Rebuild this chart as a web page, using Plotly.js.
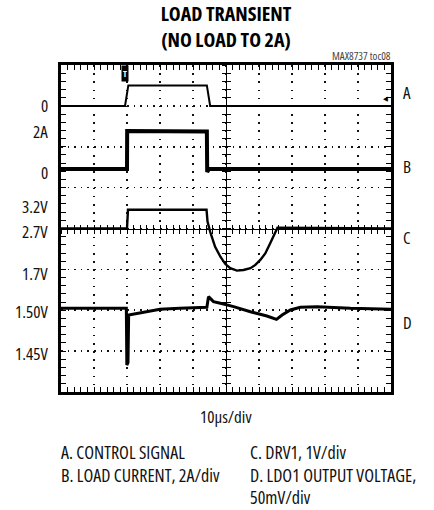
<!DOCTYPE html>
<html><head><meta charset="utf-8">
<script src="https://cdn.plot.ly/plotly-3.0.1.min.js"></script>
<style>
html,body{margin:0;padding:0;background:#fff}
#chart{width:434px;height:510px}
svg text, svg tspan, .probe{font-stretch:condensed}
</style>
</head><body><div id="chart"></div>
<script>
// ---- data (time in µs, 10 µs/div) ----
// A. control signal (logic level)
const timeA = [0, 19.4, 20.4, 44.2, 45.2, 100];
const ctrlA = [0, 0, 1, 1, 0, 0];
// B. load current (A), 2A/div
const timeB = [0, 20.0, 20.05, 32, 44.2, 44.3, 44.8, 100];
const loadB = [0, 0, 1.86, 1.85, 1.84, -0.15, 0, 0];
// C. DRV1 (V), 1V/div
const timeC = [0, 20.0, 20.3, 44.1, 44.4, 45.2, 46.7, 48.3, 49.8, 51.3, 53.3, 55.3, 57.4, 58.9, 60.4, 61.9, 63.4, 64.6, 65.6, 100];
const drvC  = [2.70, 2.70, 3.16, 3.16, 2.87, 2.62, 2.25, 2.01, 1.83, 1.73, 1.67, 1.685, 1.73, 1.81, 1.93, 2.09, 2.34, 2.54, 2.72, 2.70];
// D. LDO1 output voltage (V), 50mV/div
const timeD = [0, 19.8, 19.95, 20.3, 20.5, 24, 30, 36, 42.2, 44.2, 44.7, 46.2, 48.3, 52.3, 57.4, 62.4, 65.3, 67.0, 69.5, 72.5, 77.6, 87.7, 100];
const ldoD  = [1.5024, 1.5024, 1.433, 1.436, 1.4942, 1.497, 1.5011, 1.5024, 1.5036, 1.5036, 1.5166, 1.5105, 1.5085, 1.5044, 1.4982, 1.493, 1.4889, 1.4942, 1.5003, 1.5036, 1.5043, 1.5024, 1.5012];

// level labels on the left
const labelsA = ['0'];            const levelsA = [0];
const labelsB = ['2A', '0'];      const levelsB = [2, 0];
const labelsC = ['3.2V', '2.7V', '1.7V']; const levelsC = [3.2, 2.7, 1.7];
const labelsD = ['1.50V', '1.45V'];       const levelsD = [1.50, 1.45];
const channelNames = ['A', 'B', 'C', 'D'];
const legendLeft  = ['A. CONTROL SIGNAL', 'B. LOAD CURRENT, 2A/div'];
const legendRight = ['C. DRV1, 1V/div', 'D. LDO1 OUTPUT VOLTAGE,', '50mV/div'];
const titleLines = ['LOAD TRANSIENT', '(NO LOAD TO 2A)'];
const timeTitle = '10μs/div';
const noteText = 'MAX8737 toc08';

// ---- pick the narrowest installed sans font (reference uses a condensed face) ----
function textW(family, text, weight) {
  const s = document.createElement('span');
  s.className = 'probe';
  s.style.cssText = 'position:absolute;left:-9999px;top:0;white-space:nowrap;font-size:100px;font-weight:' + weight + ';font-family:' + family;
  s.textContent = text;
  document.body.appendChild(s);
  const w = s.getBoundingClientRect().width;
  s.remove();
  return w;
}
function installed(f) {
  const t = 'mmmmmmmmmmlli WWW 0123';
  return Math.abs(textW("'" + f + "', monospace", t, 400) - textW("'" + f + "', serif", t, 400)) < 0.5;
}
const candidates = ['Liberation Sans Narrow', 'Arial Narrow', 'DejaVu Sans Condensed', 'DejaVu Sans', 'Noto Sans', 'Open Sans', 'Roboto', 'Liberation Sans', 'Lato', 'Inter'];
function pick(text, weight) {
  let best = null, bw = 1e9;
  candidates.forEach(f => {
    if (!installed(f)) return;
    const w = textW("'" + f + "'", text, weight);
    if (w < bw) { bw = w; best = f; }
  });
  return best || 'sans-serif';
}
const FONT = pick(legendLeft[1], 400);
const TFONT = pick(titleLines[0], 700);
const fit = (fam, text, weight, target, maxSize) =>
  Math.min(maxSize, 100 * target / textW("'" + fam + "'", text, weight));
const sLegend = fit(FONT, legendLeft[1], 400, 170, 18);
const sLabel  = fit(FONT, '1.50V', 400, 35, 17);
const sTime   = fit(FONT, timeTitle, 400, 57, 17);
const sNote   = fit(FONT, noteText, 400, 66, 11);
const sTitle  = fit(TFONT, titleLines[0], 700, 145, 20);

const BLK = '#000';

const traces = [
  {x: timeA, y: ctrlA, xaxis: 'x2', yaxis: 'y2', mode: 'lines', line: {color: BLK, width: 2}},
  {x: timeB, y: loadB, xaxis: 'x3', yaxis: 'y3', mode: 'lines', line: {color: BLK, width: 4}},
  {x: timeC, y: drvC,  xaxis: 'x',  yaxis: 'y4', mode: 'lines', line: {color: BLK, width: 2.4}},
  {x: timeD, y: ldoD,  xaxis: 'x',  yaxis: 'y',  mode: 'lines', line: {color: BLK, width: 3}}
];

const frameX = {
  range: [0, 100], dtick: 10, tick0: 0, showticklabels: false, zeroline: false,
  showline: true, linewidth: 3, linecolor: BLK, mirror: 'ticks',
  ticks: 'inside', ticklen: 5, tickwidth: 1, tickcolor: BLK,
  minor: {dtick: 2, ticks: 'inside', ticklen: 5, tickwidth: 1, tickcolor: BLK, showgrid: false},
  showgrid: true, gridcolor: '#111', gridwidth: 1.6, griddash: '1.6px,6.575px'
};
const frameY = {
  range: [1.40, 1.80], dtick: 0.05, tick0: 1.40, showticklabels: false, zeroline: false,
  showline: true, linewidth: 3, linecolor: BLK, mirror: 'ticks',
  ticks: 'inside', ticklen: 5, tickwidth: 1, tickcolor: BLK,
  minor: {dtick: 0.01, ticks: 'inside', ticklen: 5, tickwidth: 1, tickcolor: BLK, showgrid: false},
  showgrid: true, gridcolor: '#111', gridwidth: 1.6, griddash: '1.6px,5px'
};
const crossX = (side) => ({
  range: [0, 100], overlaying: 'x', anchor: 'free', position: 0.5,
  showline: true, linewidth: 1.2, linecolor: BLK, showgrid: false, zeroline: false,
  showticklabels: false, ticks: side, ticklen: 4, tickwidth: 1, tickcolor: BLK, dtick: 2, tick0: 0
});
const bLow = -10.912;

const ann = [];
function lab(text, yref, y, yshift) {
  ann.push({text, xref: 'paper', x: 0, xanchor: 'right', xshift: -11, yref, y, yanchor: 'middle', yshift,
            showarrow: false, font: {family: FONT, size: sLabel, color: '#111'}});
}
labelsA.forEach((t, i) => lab(t, 'y2', levelsA[i], 0));
labelsB.forEach((t, i) => lab(t, 'y3', levelsB[i], i === 0 ? -3 : -4));
labelsC.forEach((t, i) => lab(t, 'y4', levelsC[i], [2, -3, -4.5][i]));
labelsD.forEach((t, i) => lab(t, 'y', levelsD[i], [-1.5, -2][i]));

const px2paper = (py) => (392 - py) / 327;
const chanY = [93, 166, 237, 322];
channelNames.forEach((t, i) => ann.push({text: t, xref: 'paper', x: 1, xanchor: 'center', xshift: 16,
  yref: 'paper', y: px2paper(chanY[i]), yanchor: 'middle', showarrow: false,
  font: {family: FONT, size: sLabel, color: '#111'}}));

const legY = [452, 475, 497];
legendLeft.forEach((t, i) => ann.push({text: t, xref: 'paper', x: 0, xanchor: 'left', xshift: -2,
  yref: 'paper', y: px2paper(legY[i]), yanchor: 'middle', showarrow: false,
  font: {family: FONT, size: sLegend, color: '#111'}}));
legendRight.forEach((t, i) => ann.push({text: t, xref: 'paper', x: (250 - 61) / 330, xanchor: 'left', xshift: -2,
  yref: 'paper', y: px2paper(legY[i]), yanchor: 'middle', showarrow: false,
  font: {family: FONT, size: sLegend, color: '#111'}}));

ann.push({text: timeTitle, xref: 'paper', x: 0.5, xanchor: 'center', yref: 'paper', y: px2paper(417),
  yanchor: 'middle', showarrow: false, font: {family: FONT, size: sTime, color: '#111'}});
ann.push({text: noteText, xref: 'paper', x: 1, xanchor: 'right', xshift: 2, yref: 'paper', y: px2paper(56),
  yanchor: 'middle', showarrow: false, font: {family: FONT, size: sNote, color: '#444'}});
// trigger marker and channel A ground marker
ann.push({text: '<b>T</b>', xref: 'x', x: 19.4, yref: 'paper', y: px2paper(74), yanchor: 'middle', showarrow: false,
  bgcolor: BLK, borderpad: 1, font: {family: FONT, size: 9, color: '#fff'}});
ann.push({text: '◀', xref: 'x', x: 98.2, yref: 'y2', y: 0, yanchor: 'middle', yshift: 7, showarrow: false,
  font: {family: 'DejaVu Sans', size: 7, color: BLK}});

const layout = {
  width: 434, height: 510,
  margin: {l: 61, r: 43, t: 65, b: 118},
  paper_bgcolor: '#fff', plot_bgcolor: '#fff',
  showlegend: false,
  title: {text: '<b>' + titleLines.join('<br>') + '</b>', font: {family: TFONT, size: sTitle, color: BLK},
          x: 0.5, xref: 'paper', xanchor: 'center', y: 1 - 21 / 510, yref: 'container', yanchor: 'middle'},
  xaxis: frameX,
  yaxis: frameY,
  xaxis2: crossX('outside'),
  xaxis3: crossX('inside'),
  yaxis2: {range: [-14, 2], overlaying: 'y', visible: false},
  yaxis3: {range: [bLow, bLow + 16], overlaying: 'y', anchor: 'free', position: 0.5,
           showline: true, linewidth: 1.2, linecolor: BLK, showgrid: false, zeroline: false, showticklabels: false,
           ticks: 'inside', ticklen: 4, tickwidth: 1, tickcolor: BLK, dtick: 0.4, tick0: bLow},
  yaxis4: {range: [-1.3, 6.7], overlaying: 'y', anchor: 'free', position: 0.5,
           showline: true, linewidth: 1.2, linecolor: BLK, showgrid: false, zeroline: false, showticklabels: false,
           ticks: 'outside', ticklen: 4, tickwidth: 1, tickcolor: BLK, dtick: 0.2, tick0: 2.7},
  annotations: ann
};

Plotly.newPlot('chart', traces, layout, {displayModeBar: false, staticPlot: true});
</script>
</body></html>
